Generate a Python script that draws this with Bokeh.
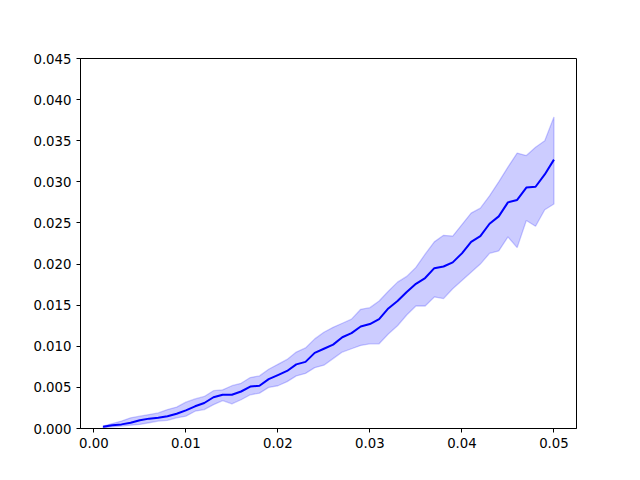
from bokeh.plotting import figure
from bokeh.models import Range1d, FixedTicker, PrintfTickFormatter, ColumnDataSource
from bokeh.embed import file_html
from bokeh.resources import INLINE

x_vals = [0.001, 0.002, 0.003, 0.004, 0.005, 0.006, 0.007, 0.008, 0.009, 0.010,
          0.011, 0.012, 0.013, 0.014, 0.015, 0.016, 0.017, 0.018, 0.019, 0.020,
          0.021, 0.022, 0.023, 0.024, 0.025, 0.026, 0.027, 0.028, 0.029, 0.030,
          0.031, 0.032, 0.033, 0.034, 0.035, 0.036, 0.037, 0.038, 0.039, 0.040,
          0.041, 0.042, 0.043, 0.044, 0.045, 0.046, 0.047, 0.048, 0.049, 0.050]

mean_vals = [0.0002, 0.0004, 0.0005, 0.0007, 0.0010, 0.0012, 0.0013, 0.0015, 0.0018, 0.0022,
             0.0027, 0.0031, 0.0038, 0.0041, 0.0041, 0.0045, 0.0051, 0.0052, 0.0060, 0.0065,
             0.0070, 0.0078, 0.0081, 0.0092, 0.0097, 0.0102, 0.0111, 0.0116, 0.0124, 0.0127,
             0.0133, 0.0146, 0.0155, 0.0166, 0.0176, 0.0183, 0.0195, 0.0197, 0.0202, 0.0213,
             0.0227, 0.0234, 0.0249, 0.0258, 0.0275, 0.0278, 0.0293, 0.0294, 0.0309, 0.0327]

upper_vals = [0.0003, 0.0006, 0.0009, 0.0013, 0.0015, 0.0017, 0.0019, 0.0023, 0.0026, 0.0032,
              0.0036, 0.0039, 0.0046, 0.0047, 0.0052, 0.0055, 0.0062, 0.0064, 0.0072, 0.0078,
              0.0084, 0.0093, 0.0098, 0.0109, 0.0117, 0.0123, 0.0128, 0.0133, 0.0145, 0.0147,
              0.0155, 0.0167, 0.0178, 0.0185, 0.0196, 0.0212, 0.0227, 0.0235, 0.0234, 0.0248,
              0.0262, 0.0268, 0.0283, 0.0300, 0.0318, 0.0335, 0.0332, 0.0342, 0.0350, 0.0379]

lower_vals = [0.0001, 0.0002, 0.0003, 0.0004, 0.0005, 0.0007, 0.0009, 0.0010, 0.0013, 0.0015,
              0.0021, 0.0023, 0.0029, 0.0034, 0.0030, 0.0035, 0.0041, 0.0043, 0.0050, 0.0052,
              0.0057, 0.0064, 0.0067, 0.0074, 0.0077, 0.0085, 0.0093, 0.0097, 0.0101, 0.0103,
              0.0103, 0.0115, 0.0125, 0.0138, 0.0149, 0.0149, 0.0160, 0.0158, 0.0170, 0.0180,
              0.0190, 0.0200, 0.0213, 0.0216, 0.0233, 0.0220, 0.0253, 0.0246, 0.0266, 0.0273]

x_ticks = [0.00, 0.01, 0.02, 0.03, 0.04, 0.05]
y_ticks = [0.000, 0.005, 0.010, 0.015, 0.020, 0.025, 0.030, 0.035, 0.040, 0.045]

p = figure(width=632, height=472, frame_width=496, frame_height=370,
           output_backend="svg", toolbar_location=None,
           x_range=Range1d(-0.00145, 0.05245), y_range=Range1d(0.0, 0.045),
           min_border_left=80, min_border_right=56, min_border_top=58, min_border_bottom=44)

p.grid.visible = False
p.outline_line_color = "black"
p.outline_line_width = 1
p.background_fill_color = "white"
p.border_fill_color = "white"

band_x = x_vals + x_vals[::-1]
band_y = upper_vals + lower_vals[::-1]
p.patch(band_x, band_y, fill_color="blue", fill_alpha=0.2,
        line_color="blue", line_alpha=0.2, line_width=1.3)

src = ColumnDataSource(dict(x=x_vals, y=mean_vals))
p.line("x", "y", source=src, line_color="blue", line_width=2)

p.xaxis.ticker = FixedTicker(ticks=x_ticks)
p.yaxis.ticker = FixedTicker(ticks=y_ticks)
p.xaxis.formatter = PrintfTickFormatter(format="%.2f")
p.yaxis.formatter = PrintfTickFormatter(format="%.3f")

for ax in (p.xaxis, p.yaxis):
    ax.axis_line_color = "black"
    ax.major_tick_line_color = "black"
    ax.major_tick_out = 4
    ax.major_tick_in = 0
    ax.minor_tick_line_color = None
    ax.major_label_text_font = "DejaVu Sans"
    ax.major_label_text_font_size = "13.3px"
    ax.major_label_text_color = "black"
    ax.major_label_standoff = 5

open("out.html", "w").write(file_html(p, INLINE))
